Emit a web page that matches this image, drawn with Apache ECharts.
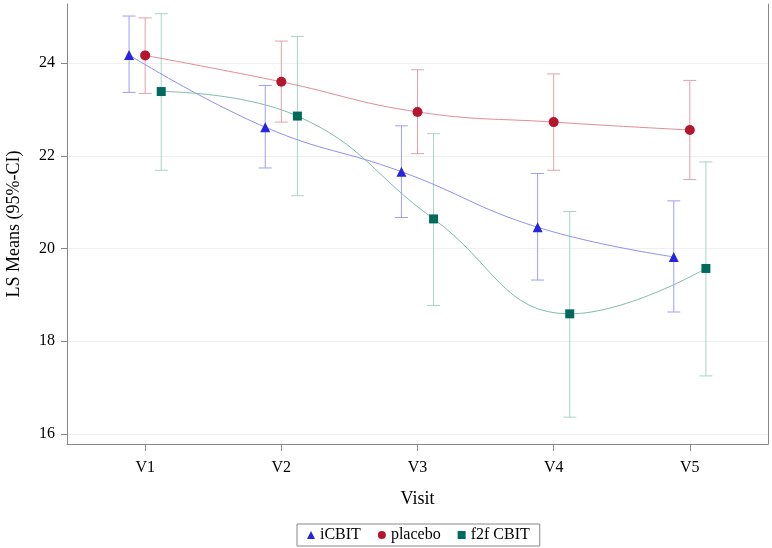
<!DOCTYPE html>
<html><head><meta charset="utf-8">
<script src="https://cdn.jsdelivr.net/npm/echarts@6/dist/echarts.min.js"></script>
<style>html,body{margin:0;padding:0;background:#fff}#c{width:772px;height:548px}</style>
</head><body><div id="c"></div>
<script>
const visits = ['V1', 'V2', 'V3', 'V4', 'V5'];
const yTicks = [16, 18, 20, 22, 24];
const icbitMean = [24.18, 22.62, 21.66, 20.46, 19.82];
const icbitLow = [23.37, 21.74, 20.67, 19.32, 18.63];
const icbitHigh = [25.02, 23.52, 22.65, 21.62, 21.03];
const placeboMean = [24.17, 23.60, 22.95, 22.73, 22.56];
const placeboLow = [23.35, 22.73, 22.05, 21.69, 21.49];
const placeboHigh = [24.98, 24.48, 23.86, 23.77, 23.63];
const f2fMean = [23.39, 22.86, 20.64, 18.59, 19.57];
const f2fLow = [21.69, 21.14, 18.77, 16.36, 17.25];
const f2fHigh = [25.07, 24.58, 22.48, 20.80, 21.87];

const OFF = 0.118;
const FONT = '"Liberation Serif", "Times New Roman", serif';

function pts(mean, off) { return mean.map((v, i) => [i + 1 + off, v]); }
function bars(lo, hi, off) { return lo.map((v, i) => [i + 1 + off, v, hi[i]]); }
function errSeries(name, data, color) {
  return {
    type: 'custom', name: name, data: data, z: 1, silent: true,
    encode: { x: 0, y: [1, 2] },
    renderItem: function (params, api) {
      const x = api.value(0);
      const p1 = api.coord([x, api.value(1)]);
      const p2 = api.coord([x, api.value(2)]);
      const w = 6.5;
      const style = { stroke: color, lineWidth: 1, fill: null };
      return { type: 'group', children: [
        { type: 'line', shape: { x1: p1[0], y1: p1[1], x2: p2[0], y2: p2[1] }, style: style },
        { type: 'line', shape: { x1: p1[0] - w, y1: p1[1], x2: p1[0] + w, y2: p1[1] }, style: style },
        { type: 'line', shape: { x1: p2[0] - w, y1: p2[1], x2: p2[0] + w, y2: p2[1] }, style: style }
      ] };
    }
  };
}
function lineSeries(name, data, symbol, size, markColor, lineColor) {
  return {
    type: 'line', name: name, data: data, smooth: 0.45, z: 3,
    symbol: symbol, symbolSize: size, showSymbol: true,
    itemStyle: { color: markColor, opacity: 1 },
    lineStyle: { color: lineColor, width: 1 },
    emphasis: { disabled: true }
  };
}

const chart = echarts.init(document.getElementById('c'), null, { renderer: 'canvas' });
chart.setOption({
  animation: false,
  backgroundColor: '#fff',
  grid: { left: 67, right: 4, top: 4, bottom: 104, containLabel: false, outerBoundsMode: 'none' },
  xAxis: {
    type: 'value', min: 0.426, max: 5.574,
    name: 'Visit', nameLocation: 'middle', nameGap: 46,
    nameTextStyle: { fontFamily: FONT, fontSize: 18, color: '#000' },
    axisLine: { show: true, lineStyle: { color: '#888', width: 1 } },
    axisTick: { show: true, length: 7, customValues: [1, 2, 3, 4, 5], lineStyle: { color: '#888' } },
    axisLabel: { customValues: [1, 2, 3, 4, 5], formatter: v => visits[Math.round(v) - 1], fontFamily: FONT, fontSize: 16, color: '#000', margin: 16 },
    splitLine: { show: false }
  },
  yAxis: [{
    type: 'value', min: 15.78, max: 25.28,
    name: 'LS Means (95%-CI)', nameLocation: 'middle', nameGap: 44,
    nameTextStyle: { fontFamily: FONT, fontSize: 18, color: '#000' },
    axisLine: { show: true, lineStyle: { color: '#888', width: 1 } },
    axisTick: { show: true, length: 6, customValues: yTicks, lineStyle: { color: '#888' } },
    axisLabel: { customValues: yTicks, fontFamily: FONT, fontSize: 16, color: '#000', margin: 12 },
    splitLine: { show: true, lineStyle: { color: '#f0f0f0', width: 1 } }
  }, {
    type: 'value', position: 'right', min: 15.78, max: 25.28,
    axisLine: { show: true, lineStyle: { color: '#888', width: 1 } },
    axisTick: { show: false }, axisLabel: { show: false }, splitLine: { show: false }
  }],
  legend: {
    bottom: 2, left: 297, orient: 'horizontal',
    borderColor: '#888', borderWidth: 1, padding: [3, 10, 3, 10],
    itemWidth: 8, itemHeight: 8, itemGap: 17,
    textStyle: { fontFamily: FONT, fontSize: 16, color: '#000' },
    data: [
      { name: 'iCBIT', icon: 'triangle' },
      { name: 'placebo', icon: 'circle' },
      { name: 'f2f CBIT', icon: 'rect' }
    ]
  },
  series: [
    errSeries('iCBIT CI', bars(icbitLow, icbitHigh, -OFF), '#9f9ff5'),
    errSeries('placebo CI', bars(placeboLow, placeboHigh, 0), '#e3a0aa'),
    errSeries('f2f CBIT CI', bars(f2fLow, f2fHigh, OFF), '#a8d3c9'),
    lineSeries('iCBIT', pts(icbitMean, -OFF), 'triangle', 10, '#2525dd', '#8f8ff0'),
    lineSeries('placebo', pts(placeboMean, 0), 'circle', 10, '#b5162d', '#e08c98'),
    lineSeries('f2f CBIT', pts(f2fMean, OFF), 'rect', 9, '#006b5d', '#7fbcad')
  ]
});
</script>
</body></html>
